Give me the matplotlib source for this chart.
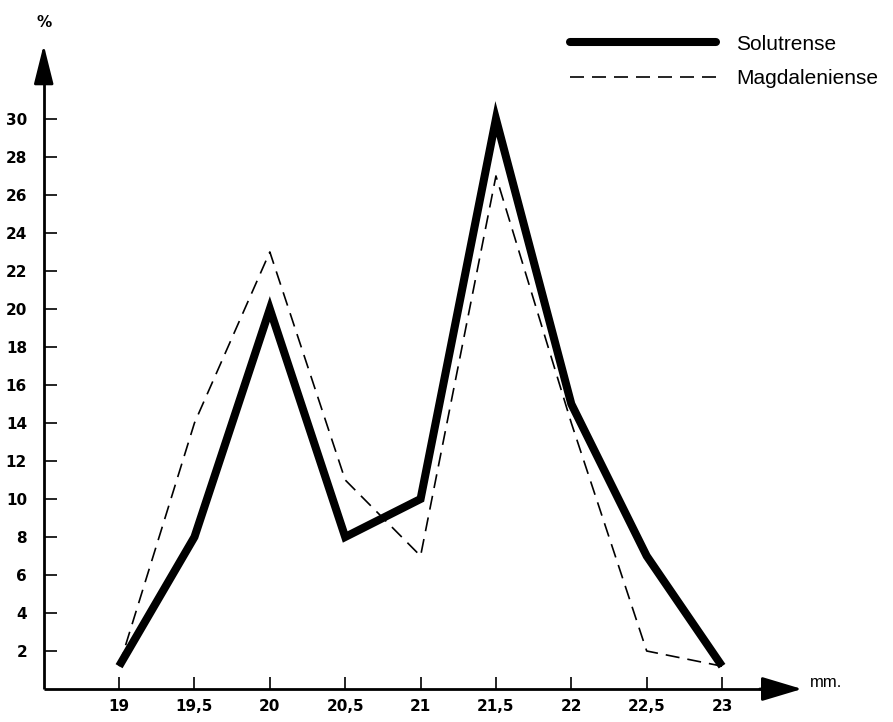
import matplotlib
matplotlib.use("Agg")
import matplotlib.pyplot as plt

# Length classes (mm) and percentage of pieces per class
sizes = [19, 19.5, 20, 20.5, 21, 21.5, 22, 22.5, 23]
size_labels = ["19", "19,5", "20", "20,5", "21", "21,5", "22", "22,5", "23"]
solutrense = [1.2, 8, 20, 8, 10, 30, 15, 7, 1.2]
magdaleniense = [1.2, 14, 23, 11, 7, 27, 14, 2, 1.2]
pct_ticks = list(range(2, 31, 2))

tick_font = dict(family=["DejaVu Sans"], weight="bold", size=11)

fig = plt.figure(figsize=(8.93, 7.22), dpi=100)
ax = fig.add_axes([0, 0, 1, 1])
ax.set_xlim(18.21, 24.134)
ax.set_ylim(-1.737, 36.26)

for side in ("top", "right"):
    ax.spines[side].set_visible(False)
ax.spines["left"].set_position(("data", 18.5))
ax.spines["bottom"].set_position(("data", 0))
ax.spines["left"].set_bounds(0, 33.0)
ax.spines["bottom"].set_bounds(18.5, 23.4)
for side in ("left", "bottom"):
    ax.spines[side].set_linewidth(2.0)
    ax.spines[side].set_capstyle("butt")

ax.set_xticks(sizes)
ax.set_xticklabels(size_labels, fontdict=tick_font)
ax.set_yticks(pct_ticks)
ax.set_yticklabels([str(v) for v in pct_ticks], fontdict=tick_font)
ax.tick_params(axis="both", direction="in", length=9, width=1.2)
ax.tick_params(axis="x", pad=7)
ax.tick_params(axis="y", pad=12)

# Arrow heads at the ends of both axes
ax.annotate("", xy=(18.5, 33.9), xytext=(18.5, 32.0),
            arrowprops=dict(arrowstyle="-|>,head_length=2.4,head_width=0.6",
                            mutation_scale=10, color="black", lw=2,
                            shrinkA=0, shrinkB=0))
ax.annotate("", xy=(23.53, 0), xytext=(23.25, 0),
            arrowprops=dict(arrowstyle="-|>,head_length=2.5,head_width=0.75",
                            mutation_scale=10, color="black", lw=2,
                            shrinkA=0, shrinkB=0))
ax.text(18.5, 35.1, "%", ha="center", va="center",
        fontsize=11, fontweight="bold", family=["DejaVu Sans"])
ax.text(23.58, 0.35, "mm.", ha="left", va="center",
        fontsize=12, family=["Liberation Sans", "DejaVu Sans"])

ax.plot(sizes, solutrense, color="black", lw=5.8, solid_joinstyle="miter",
        solid_capstyle="butt", label="Solutrense", zorder=3)
ax.plot(sizes, magdaleniense, color="black", lw=1.2, linestyle=(0, (8.4, 4.8)),
        label="Magdaleniense", zorder=2)

leg = ax.legend(loc="upper left", bbox_to_anchor=(0.617, 0.978), frameon=False,
                handlelength=7.0, handletextpad=1.0, labelspacing=0.75,
                prop=dict(family=["Liberation Sans", "DejaVu Sans"], size=15))
leg.get_lines()[0].set_solid_capstyle("round")

fig.savefig("out.png", dpi=100)
